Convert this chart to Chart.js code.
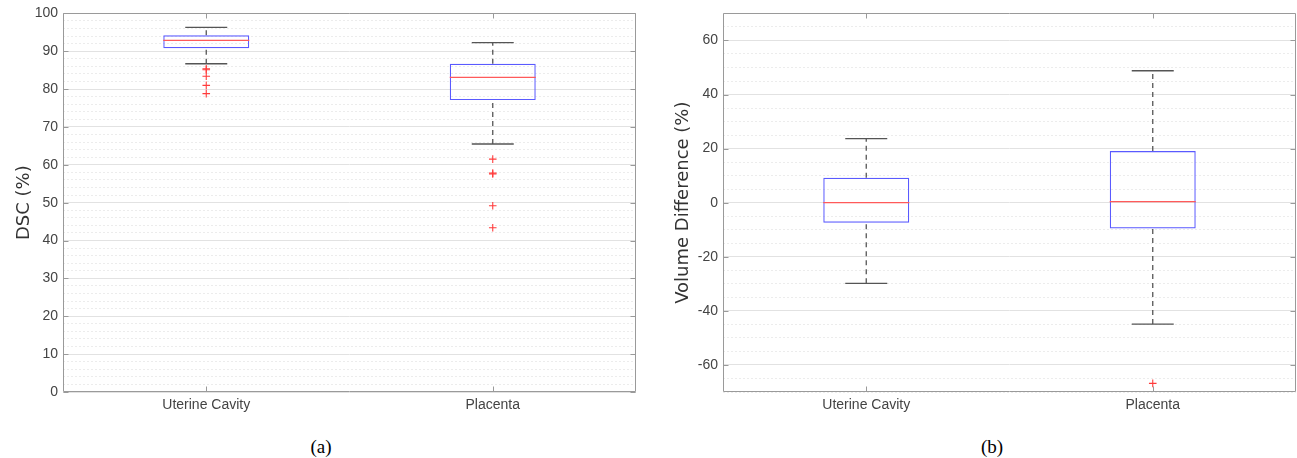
<!DOCTYPE html>
<html lang="en">
<head>
<meta charset="utf-8"/>
<title>DSC and Volume Difference box plots</title>
<script src="https://cdn.jsdelivr.net/npm/chart.js"></script>
<style>
  body { margin: 0; background: #fff; width: 1297px; height: 458px; position: relative; overflow: hidden; }
  canvas { position: absolute; top: 0; }
  #chartA { left: 0; }
  #chartB { left: 640px; }
  .caption { position: absolute; top: 436px; font-family: "Liberation Serif", "Times New Roman", serif; font-size: 19px; color: #000; transform: translateX(-50%); }
</style>
</head>
<body>
<canvas id="chartA" width="640" height="420"></canvas>
<canvas id="chartB" width="657" height="420"></canvas>
<div class="caption" style="left:321px">(a)</div>
<div class="caption" style="left:992px">(b)</div>
<script>
  const categories = ['Uterine Cavity', 'Placenta'];

  // (a) DSC (%)
  const dscLow = [86.7, 65.5];
  const dscQ1 = [90.8, 77.1];
  const dscMedian = [92.9, 83.1];
  const dscQ3 = [94.2, 86.7];
  const dscHigh = [96.3, 92.3];
  const dscOutliers = [
    [85.4, 85.1, 83.4, 81.0, 78.8],
    [61.5, 57.8, 57.6, 49.2, 43.4]
  ];

  // (b) Volume Difference (%)
  const vdLow = [-29.8, -44.9];
  const vdQ1 = [-7.4, -9.5];
  const vdMedian = [0.0, 0.4];
  const vdQ3 = [9.2, 19.1];
  const vdHigh = [23.7, 48.8];
  const vdOutliers = [
    [],
    [-66.8]
  ];

  const tickFont = { family: '"Liberation Sans", Arial, sans-serif', size: 14 };
  const titleFont = { family: '"DejaVu Sans", sans-serif', size: 18 };

  // frame round the plot area plus MATLAB style inward ticks
  const framePlugin = {
    id: 'frame',
    afterDatasetsDraw(chart, args, opts) {
      const { ctx, chartArea: a, scales } = chart;
      const l = Math.round(a.left) + 0.5, r = Math.round(a.right) - 0.5;
      const t = Math.round(a.top) + 0.5, b = Math.round(a.bottom) - 0.5;
      ctx.save();
      ctx.strokeStyle = '#9a9a9a';
      ctx.lineWidth = 1;
      ctx.beginPath();
      ctx.rect(l, t, r - l, b - t);
      scales.y.ticks.forEach((tk, i) => {
        if (tk.value % opts.major !== 0) return;
        const y = Math.round(scales.y.getPixelForTick(i)) + 0.5;
        ctx.moveTo(l, y); ctx.lineTo(l + 5, y);
        ctx.moveTo(r, y); ctx.lineTo(r - 5, y);
      });
      categories.forEach((c, i) => {
        const x = Math.round(scales.x.getPixelForValue(i)) + 0.5;
        ctx.moveTo(x, b); ctx.lineTo(x, b - 5);
        ctx.moveTo(x, t); ctx.lineTo(x, t + 5);
      });
      ctx.stroke();
      ctx.restore();
    }
  };

  function makeChart(id, cfg) {
    const datasets = [];
    // boxes
    datasets.push({
      type: 'bar',
      data: categories.map((c, i) => [cfg.q1[i], cfg.q3[i]]),
      backgroundColor: 'transparent',
      borderColor: '#5a5aff',
      borderWidth: 1.2,
      borderSkipped: false,
      barPercentage: 0.3,
      categoryPercentage: 1,
      order: 3
    });
    // dashed whiskers
    categories.forEach((c, i) => {
      datasets.push({
        type: 'line',
        data: [
          { x: c, y: cfg.low[i] }, { x: c, y: cfg.q1[i] }, { x: c, y: null },
          { x: c, y: cfg.q3[i] }, { x: c, y: cfg.high[i] }
        ],
        borderColor: '#555',
        borderWidth: 1.3,
        borderDash: [5, 4],
        pointRadius: 0,
        spanGaps: false,
        fill: false,
        order: 4
      });
    });
    // whisker caps
    datasets.push({
      type: 'line',
      showLine: false,
      data: categories.flatMap((c, i) => [{ x: c, y: cfg.low[i] }, { x: c, y: cfg.high[i] }]),
      pointStyle: 'line',
      pointRadius: 21,
      pointBorderColor: '#555',
      pointBorderWidth: 1.3,
      order: 2
    });
    // medians
    datasets.push({
      type: 'line',
      showLine: false,
      data: categories.map((c, i) => ({ x: c, y: cfg.median[i] })),
      pointStyle: 'line',
      pointRadius: 43,
      pointBorderColor: '#ff5a5a',
      pointBorderWidth: 1.3,
      order: 1
    });
    // outliers
    datasets.push({
      type: 'line',
      showLine: false,
      data: categories.flatMap((c, i) => cfg.outliers[i].map(v => ({ x: c, y: v }))),
      pointStyle: 'cross',
      pointRadius: 3.8,
      pointBorderColor: '#ff3b3b',
      pointBorderWidth: 1.1,
      order: 0
    });

    return new Chart(document.getElementById(id), {
      type: 'bar',
      data: { labels: categories, datasets },
      plugins: [framePlugin],
      options: {
        responsive: false,
        animation: false,
        events: [],
        layout: { autoPadding: false, padding: { top: 10, right: cfg.padRight, left: 0, bottom: 0 } },
        plugins: { legend: { display: false }, tooltip: { enabled: false }, frame: { major: cfg.major } },
        scales: {
          x: {
            type: 'category',
            offset: true,
            grid: { display: false, drawTicks: false },
            border: { display: false },
            ticks: { color: '#444', font: tickFont, padding: 5 },
            afterFit(s) { s.height = 28; }
          },
          y: {
            min: cfg.min,
            max: cfg.max,
            ticks: {
              stepSize: cfg.minor,
              autoSkip: false,
              color: '#444',
              font: tickFont,
              padding: 5,
              callback: v => (v % cfg.major === 0 ? v : '')
            },
            grid: {
              drawTicks: false,
              lineWidth: 1,
              color: ctx => (ctx.tick && ctx.tick.value % cfg.major === 0) ? '#e2e2e2' : '#ececec'
            },
            border: {
              display: false,
              dash: ctx => (ctx.tick && ctx.tick.value % cfg.major !== 0) ? [2, 2] : []
            },
            title: {
              display: true,
              text: cfg.title,
              color: '#333',
              font: titleFont,
              padding: { top: cfg.titlePad, bottom: 0 }
            },
            afterFit(s) { s.width = cfg.axisWidth; }
          }
        }
      }
    });
  }

  makeChart('chartA', {
    low: dscLow, q1: dscQ1, median: dscMedian, q3: dscQ3, high: dscHigh, outliers: dscOutliers,
    min: 0, max: 100, major: 10, minor: 2,
    title: 'DSC (%)', titlePad: 14, axisWidth: 63, padRight: 4
  });

  makeChart('chartB', {
    low: vdLow, q1: vdQ1, median: vdMedian, q3: vdQ3, high: vdHigh, outliers: vdOutliers,
    min: -70, max: 70, major: 20, minor: 5,
    title: 'Volume Difference (%)', titlePad: 33, axisWidth: 83, padRight: 1
  });
</script>
</body>
</html>
